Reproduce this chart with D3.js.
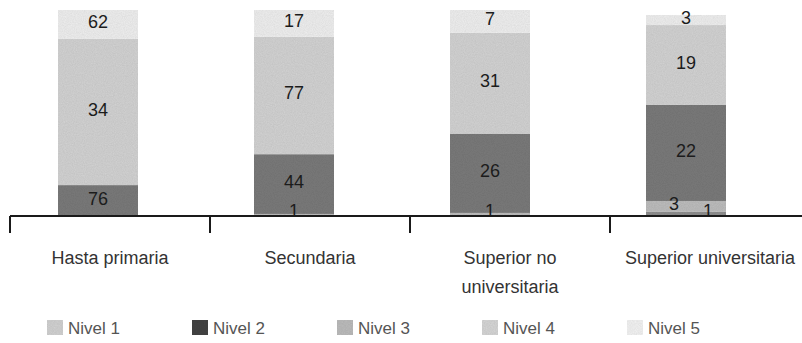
<!DOCTYPE html>
<html>
<head>
<meta charset="utf-8">
<script src="https://cdn.jsdelivr.net/npm/d3@7/dist/d3.min.js"></script>
<style>
  html, body { margin: 0; padding: 0; background: #ffffff; }
  svg { display: block; font-family: "Liberation Sans", Arial, sans-serif; }
</style>
</head>
<body>
<svg id="chart" width="802" height="343"></svg>
<script>
// ---- data ----
const categories = ["Hasta primaria", "Secundaria", "Superior no universitaria", "Superior universitaria"];
const categoryLines = [["Hasta primaria"], ["Secundaria"], ["Superior no", "universitaria"], ["Superior universitaria"]];
const levels = ["Nivel 1", "Nivel 2", "Nivel 3", "Nivel 4", "Nivel 5"];
const stackOrder = ["Nivel 3", "Nivel 1", "Nivel 2", "Nivel 4", "Nivel 5"];

// printed value labels
const labelNivel1 = [null, 1, 1, 3];
const labelNivel2 = [76, 44, 26, 22];
const labelNivel3 = [null, null, null, 1];
const labelNivel4 = [34, 77, 31, 19];
const labelNivel5 = [62, 17, 7, 3];

// segment heights (percent of the bar)
const shareNivel1 = [0, 1, 1.5, 5.3];
const shareNivel2 = [15, 29, 38.5, 46.6];
const shareNivel3 = [0, 0, 0, 2];
const shareNivel4 = [71, 57, 49, 38.8];
const shareNivel5 = [14, 13, 11, 4.9];

const shares = {"Nivel 1": shareNivel1, "Nivel 2": shareNivel2, "Nivel 3": shareNivel3, "Nivel 4": shareNivel4, "Nivel 5": shareNivel5};
const labels = {"Nivel 1": labelNivel1, "Nivel 2": labelNivel2, "Nivel 3": labelNivel3, "Nivel 4": labelNivel4, "Nivel 5": labelNivel5};

const fills = {"Nivel 1": "#bdbdbd", "Nivel 2": "#7a7a7a", "Nivel 3": "#8f8f8f", "Nivel 4": "#d3d3d3", "Nivel 5": "#efefef"};
const legendFills = {"Nivel 1": "#d2d2d2", "Nivel 2": "#454545", "Nivel 3": "#bcbcbc", "Nivel 4": "#d6d6d6", "Nivel 5": "#f3f3f3"};

const rows = categories.map((c, i) => {
  const r = {category: c};
  levels.forEach(l => r[l] = shares[l][i]);
  return r;
});

// ---- layout ----
const svg = d3.select("#chart");
const baseY = 216, topY = 10;
const barW = 80;

const xBar = d3.scaleBand().domain(categories).range([0, 784]).padding(0);
const xAxis = d3.scaleBand().domain(categories).range([10, 810]).padding(0);
const y = d3.scaleLinear().domain([0, 100]).range([baseY, topY]);

const stack = d3.stack().keys(stackOrder);
const series = stack(rows);

const defs = svg.append("defs");
const flt = defs.append("filter").attr("id", "grain").attr("x", 0).attr("y", 0).attr("width", 1).attr("height", 1);
flt.append("feTurbulence").attr("type", "fractalNoise").attr("baseFrequency", 0.9).attr("numOctaves", 2).attr("seed", 3).attr("result", "n");
flt.append("feColorMatrix").attr("in", "n").attr("type", "matrix")
  .attr("values", "0 0 0 0 0  0 0 0 0 0  0 0 0 0 0  0 0 0 0.18 0").attr("result", "na");
flt.append("feComposite").attr("in", "na").attr("in2", "SourceGraphic").attr("operator", "in").attr("result", "nb");
const fm = flt.append("feMerge");
fm.append("feMergeNode").attr("in", "SourceGraphic");
fm.append("feMergeNode").attr("in", "nb");

const gBars = svg.append("g");
series.forEach(s => {
  gBars.selectAll(null).data(s).enter().append("rect")
    .attr("x", d => xBar(d.data.category) + xBar.bandwidth() / 2 - barW / 2)
    .attr("width", barW)
    .attr("y", d => y(d[1]))
    .attr("height", d => Math.max(0, y(d[0]) - y(d[1])))
    .attr("fill", fills[s.key])
    .attr("filter", "url(#grain)");
});

// value labels
const gLab = svg.append("g");
categories.forEach((c, i) => {
  const cx = xBar(c) + xBar.bandwidth() / 2;
  const segs = [];
  series.forEach(s => {
    const d = s[i];
    const v = labels[s.key][i];
    if (v === null || v === undefined) return;
    segs.push({key: s.key, y0: y(d[0]), y1: y(d[1]), v: v});
  });
  segs.forEach((sg, k) => {
    const h = sg.y0 - sg.y1;
    let dx = 0;
    let yy = (sg.y0 + sg.y1) / 2 - 2;
    const prevSmall = k > 0 && (segs[k - 1].y0 - segs[k - 1].y1) < 15;
    const nextSmall = k < segs.length - 1 && (segs[k + 1].y0 - segs[k + 1].y1) < 15;
    if (h < 15 && nextSmall) { dx = 22; yy = sg.y0 - 5; }
    else if (h < 15 && prevSmall) { dx = -12; yy = sg.y1 + 3; }
    else if (h < 6) { yy = sg.y0 - 5; }
    gLab.append("text")
      .attr("x", cx + dx)
      .attr("y", yy)
      .attr("text-anchor", "middle")
      .attr("dominant-baseline", "central")
      .attr("font-size", 18)
      .attr("fill", "#1c1c1c")
      .text(sg.v);
  });
});

// axis
const gAx = svg.append("g");
gAx.append("line").attr("x1", 10).attr("x2", 802).attr("y1", baseY).attr("y2", baseY)
  .attr("stroke", "#1a1a1a").attr("stroke-width", 2);
categories.forEach((c, i) => {
  const tx = xAxis(c);
  gAx.append("line").attr("x1", tx).attr("x2", tx).attr("y1", baseY).attr("y2", 233)
    .attr("stroke", "#1a1a1a").attr("stroke-width", 2);
  const t = gAx.append("text")
    .attr("x", tx + xAxis.bandwidth() / 2)
    .attr("y", 264)
    .attr("text-anchor", "middle")
    .attr("font-size", 18)
    .attr("fill", "#333");
  categoryLines[i].forEach((ln, j) => {
    t.append("tspan").attr("x", tx + xAxis.bandwidth() / 2).attr("dy", j === 0 ? 0 : 29).text(ln);
  });
});

// legend
const gLeg = svg.append("g");
const legX = d3.scaleLinear().domain([0, levels.length - 1]).range([47, 627]);
levels.forEach((l, i) => {
  const lx = legX(i);
  gLeg.append("rect").attr("x", lx).attr("y", 320).attr("width", 16).attr("height", 15)
    .attr("fill", legendFills[l]).attr("filter", "url(#grain)");
  gLeg.append("text").attr("x", lx + 21).attr("y", 334)
    .attr("font-size", 17).attr("fill", "#555").text(l);
});
</script>
</body>
</html>
